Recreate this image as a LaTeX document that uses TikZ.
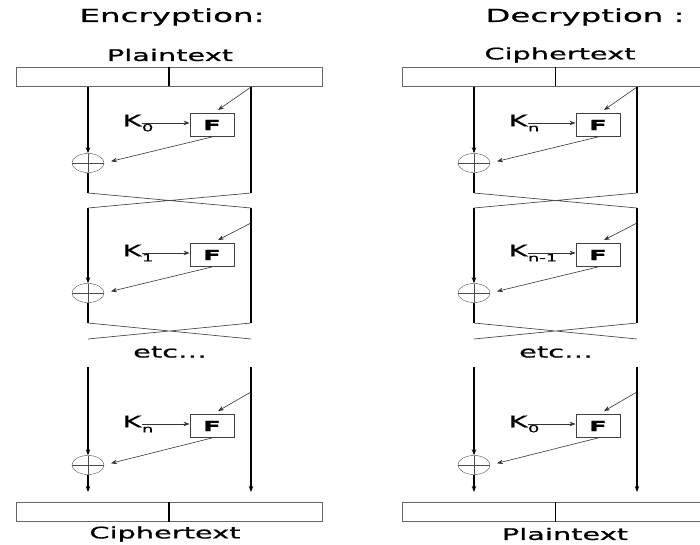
\documentclass[tikz,border=0pt]{standalone}
\usepackage{fontspec}
\setmainfont{DejaVu Sans}
\newfontfamily\widefont[FakeStretch=1.8,FakeBold=0.8]{DejaVu Sans}
\usepackage{tikz}
\usetikzlibrary{calc,shapes.geometric,arrows.meta}
\newcommand\ksub[1]{K\rlap{\kern0.5pt\raisebox{-5pt}{\fontsize{10}{10}\selectfont #1}}}

\begin{document}
\begin{tikzpicture}[x=1pt,y=-1pt,>={Stealth[length=6pt,width=4.5pt]},
  txt/.style={font=\widefont\fontsize{16}{18}\selectfont, inner sep=0pt},
  head/.style={font=\widefont\fontsize{18}{20}\selectfont, inner sep=0pt},
  bar/.style={draw=black!60, line width=0.9pt, minimum width=306pt, minimum height=19pt, inner sep=0pt},
  fbox/.style={draw=black!75, line width=0.9pt, minimum width=44pt, minimum height=23pt, inner sep=0pt,
    font=\widefont\bfseries\fontsize{14}{14}\selectfont},
  xor/.style={draw=black!70, ellipse, minimum width=32pt, minimum height=19pt, inner sep=0pt,
    path picture={\draw[black!70] (path picture bounding box.west) -- (path picture bounding box.east);
                  \draw[black!70] (path picture bounding box.north) -- (path picture bounding box.south);}},
  wire/.style={line width=1.1pt},
  feed/.style={line width=0.6pt, black!80},
  swap/.style={line width=0.7pt, black!70}]
  \useasboundingbox (0,0) rectangle (700,545);
  \clip (0,0) rectangle (700,545);
  % one ladder for each direction
  \foreach \s/\dx/\hx/\head/\ix/\inp/\ox/\outp/\ka/\kb/\kc/\rw/\dw in
    {e/0/172/Encryption:/170/Plaintext/165/Ciphertext/0/1/n/1.1pt/1.4pt,
     d/386/199/Decryption :/174/Ciphertext/179/Plaintext/n/n-1/0/1.8pt/0.8pt}{
  \begin{scope}[xshift=\dx pt]
    \node[head] (\s-head) at (\hx,17) {\head};
    \node[txt] (\s-in) at (\ix,55) {\inp};
    \node[bar] (\s-top) at (169,76.5) {};
    \node[bar] (\s-bot) at (169,512) {};
    \node[txt] (\s-out) at (\ox,534) {\outp};
    \draw[line width=\dw] (\s-top.north) -- (\s-top.south);
    \draw[line width=\dw] (\s-bot.north) -- (\s-bot.south);
    % the rounds
    \foreach \r/\yt/\yd/\yf/\yx/\yb/\k in
      {1/87/87/125/163/193/\ka, 2/208/223/255/293/323/\kb, 3/367/392/426/465/492/\kc}{
      \coordinate (\s-l\r) at (88,\yt);
      \coordinate (\s-r\r) at (251,\yt);
      \coordinate (\s-lb\r) at (88,\yb);
      \coordinate (\s-rb\r) at (251,\yb);
      \coordinate (\s-t\r) at (251,\yd);
      \node[fbox] (\s-F\r) at (212,\yf) {F};
      \node[txt] (\s-K\r) at (132,\yf-2) {\ksub{\k}};
      \node[xor] (\s-X\r) at (88,\yx) {};
      \draw[feed,->] (\s-K\r.east) -- (\s-K\r.east -| \s-F\r.west);
      \draw[feed,->] (\s-t\r) -- ($(\s-F\r.north)+(6,-3)$);
      \draw[feed,->,shorten >=7pt] (\s-F\r.south) -- (\s-X\r.east);
      \draw[wire,->] (\s-l\r) -- (\s-X\r.north);
      \ifnum\r<3
        \draw[wire] (\s-X\r.south) -- (\s-lb\r);
        \draw[wire,line width=\rw] (\s-r\r) -- (\s-rb\r);
      \else
        \draw[wire,->] (\s-X\r.south) -- (\s-lb\r);
        \draw[wire,line width=\rw,->] (\s-r\r) -- (\s-rb\r);
      \fi
    }
    % halves swap
    \coordinate (\s-cl) at (88,339);
    \coordinate (\s-cr) at (251,339);
    \draw[swap] (\s-lb1) -- (\s-r2) (\s-rb1) -- (\s-l2);
    \draw[swap] (\s-lb2) -- (\s-cr) (\s-rb2) -- (\s-cl);
    \node[txt] (\s-etc) at (170,352) {etc\dots};
  \end{scope}}
\end{tikzpicture}
\end{document}
